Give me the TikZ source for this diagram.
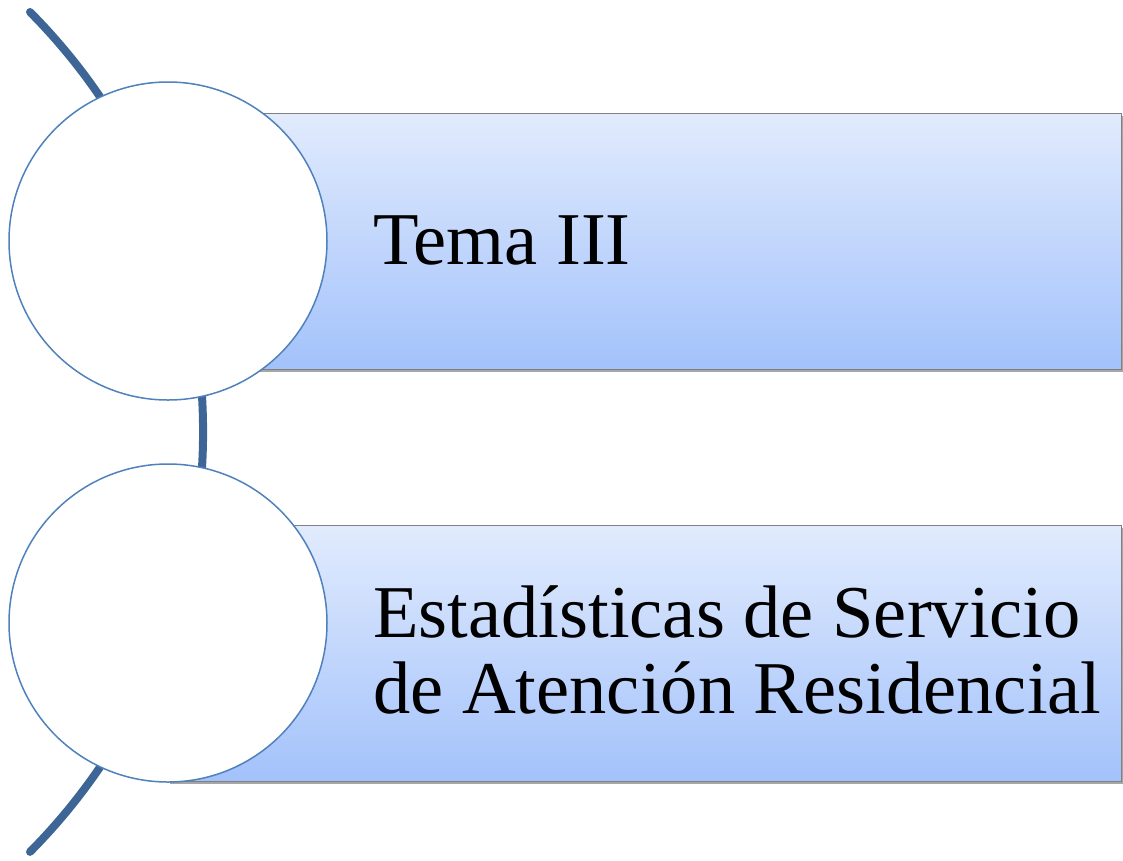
\documentclass[tikz,border=0pt]{standalone}
\usepackage{fontspec}
\setmainfont{Liberation Serif}
\usetikzlibrary{shadows}
\definecolor{arcblue}{RGB}{61,102,151}
\definecolor{ringblue}{RGB}{79,129,189}
\definecolor{gradtop}{RGB}{225,235,253}
\definecolor{gradbot}{RGB}{163,194,251}
\definecolor{edgegrey}{RGB}{128,128,128}
\tikzset{
  bar/.style={rectangle, minimum width=953pt, minimum height=256pt, inner sep=0pt,
    top color=gradtop, bottom color=gradbot, draw=edgegrey, line width=0.8pt,
    drop shadow={shadow xshift=2pt, shadow yshift=-3pt, opacity=0.35, fill=black}},
  ring/.style={circle, minimum size=318pt, inner sep=0pt, fill=white, draw=ringblue, line width=1.5pt},
  label/.style={anchor=base west, inner sep=0pt, align=left, font=\fontsize{74.5}{76}\selectfont},
  spine/.style={draw=arcblue, line width=8pt, line cap=round}
}
\begin{document}
\begin{tikzpicture}[x=1pt, y=-1pt]
\useasboundingbox (0,0) rectangle (1123,860);
\coordinate (s) at (30,12);
\draw[spine] (s) arc[start angle=-44.8, end angle=44.8, radius=596];
\node[bar] (r1) at (644.5,241) {};
\node[bar] (r2) at (644.5,653) {};
\node[ring] (c1) at (168,241) {};
\node[ring] (c2) at (168,623) {};
\node[label] (t1) at (373,264) {Tema III};
\node[label] (t2) at (373,713) {Estadísticas de Servicio\\de Atención Residencial};
\end{tikzpicture}
\end{document}
